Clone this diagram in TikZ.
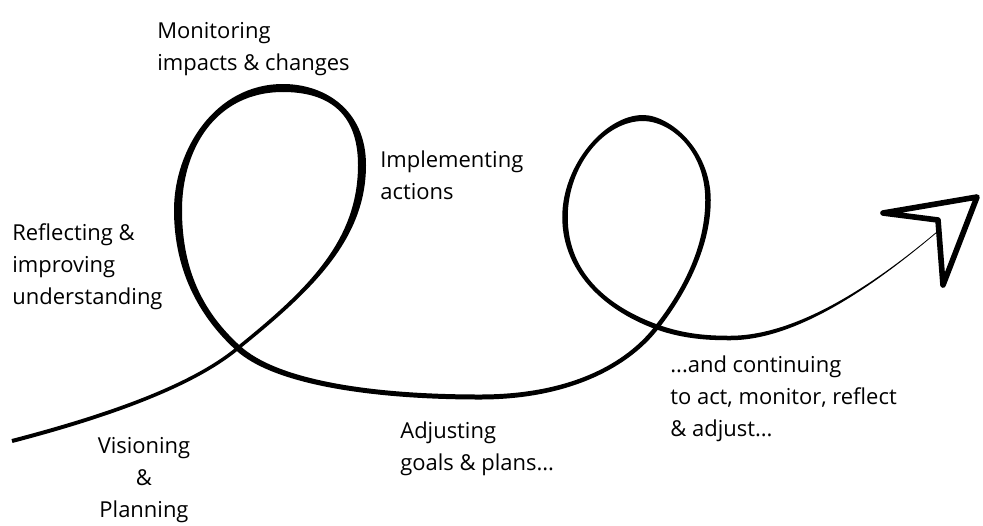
\documentclass[tikz,border=0pt]{standalone}
\usepackage{fontspec}
\setmainfont{Open Sans}
\usetikzlibrary{calc}

%% one ink stroke: bezier #1..#4, half width #5 at start, #6 at end
\newcommand{\inkseg}[6]{%
  \fill ($(#1)!#5!90:(#2)$) .. controls ($(#2)!#5!-90:(#1)$) and ($(#3)!#6!90:(#4)$) .. ($(#4)!#6!-90:(#3)$)
    -- ($(#4)!#6!90:(#3)$) .. controls ($(#3)!#6!-90:(#4)$) and ($(#2)!#5!90:(#1)$) .. ($(#1)!#5!-90:(#2)$) -- cycle;}

\tikzset{
  lbl/.style={font=\fontsize{12.5}{18}\selectfont, inner sep=0pt, align=left, anchor=base west},
}

\begin{document}
\begin{tikzpicture}[x=0.02cm, y=-0.02cm]
\useasboundingbox (0,0) rectangle (983,525);

%% Path in
\inkseg{12,441}{100,418}{190,388}{238,348}{0.04cm}{0.035cm}

%% First loop
\inkseg{238,348}{310,290}{362,240}{362,165}{0.035cm}{0.08cm}
\inkseg{362,165}{362,110}{325,88}{283,88}{0.08cm}{0.08cm}
\inkseg{283,88}{215,88}{178,150}{178,210}{0.08cm}{0.08cm}
\inkseg{178,210}{178,275}{205,318}{238,348}{0.08cm}{0.06cm}
\inkseg{238,348}{275,382}{370,397}{480,397}{0.06cm}{0.05cm}

%% Second loop
\inkseg{480,397}{570,397}{628,365}{657,327}{0.05cm}{0.045cm}
\inkseg{657,327}{686,290}{708,245}{708,200}{0.045cm}{0.055cm}
\inkseg{708,200}{708,150}{670,118}{643,118}{0.055cm}{0.06cm}
\inkseg{643,118}{605,118}{565,165}{565,217}{0.06cm}{0.055cm}
\inkseg{565,217}{565,275}{610,310}{657,327}{0.055cm}{0.05cm}
\inkseg{657,327}{685,337}{710,338}{730,338}{0.05cm}{0.045cm}

%% Tail
\inkseg{730,338}{800,338}{880,280}{937,232}{0.045cm}{0.008cm}

%% Arrow head
\draw[line width=3.2pt, line join=round] (938,220) -- (883,213) -- (977,197) -- (943,285) -- cycle;

%% Labels (anchored at the baseline of the last line)
\node[lbl] (monitor) at (157,70) {Monitoring\\impacts \& changes};
\node[lbl] (implement) at (380,199) {Implementing\\actions};
\node[lbl] (reflect) at (12,304) {Reflecting \&\\improving\\understanding};
\node[lbl, anchor=base, align=center] (vision) at (144,517) {Visioning\\\&\\Planning};
\node[lbl] (adjust) at (400,470) {Adjusting\\goals \& plans...};
\node[lbl] (continue) at (670,436) {...and continuing\\to act, monitor, reflect\\\& adjust...};

\end{tikzpicture}
\end{document}
